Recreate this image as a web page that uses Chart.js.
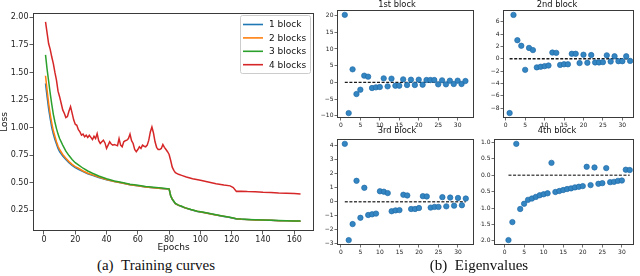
<!DOCTYPE html>
<html>
<head>
<meta charset="utf-8">
<script src="https://cdn.jsdelivr.net/npm/chart.js@4.4.0/dist/chart.umd.min.js"></script>
<style>
html, body { margin: 0; padding: 0; background: #fff; }
#fig { position: relative; width: 640px; height: 276px; overflow: hidden; }
#fig canvas { position: absolute; }
.caption {
    position: absolute; top: 257px;
    font-family: "Liberation Serif", "DejaVu Serif", serif; font-size: 15px; color: #111;
    white-space: nowrap; transform: translateX(-50%);
}
</style>
</head>
<body>
<div id="fig">
    <canvas id="curvas" style="left:0;top:0;width:320px;height:256px" width="320" height="256"></canvas>
    <canvas id="bloque1" style="left:320px;top:0;width:160px;height:128px" width="160" height="128"></canvas>
    <canvas id="bloque2" style="left:480px;top:0;width:160px;height:128px" width="160" height="128"></canvas>
    <canvas id="bloque3" style="left:320px;top:126px;width:160px;height:130px" width="160" height="130"></canvas>
    <canvas id="bloque4" style="left:480px;top:126px;width:160px;height:130px" width="160" height="130"></canvas>
    <div class="caption" style="left:156px">(a)&nbsp;&nbsp;Training curves</div>
    <div class="caption" style="left:479px">(b)&nbsp;&nbsp;Eigenvalues</div>
</div>
<script>
// ---- datos: curvas de entrenamiento ----
var epocas = [1, 2, 3, 4, 5, 6, 7, 8, 9, 10, 12, 14, 16, 18, 20, 22, 25, 28, 31, 35,
    40, 45, 50, 55, 60, 65, 70, 75, 80, 81, 82, 83, 84, 86, 88, 90,
    94, 98, 102, 106, 110, 114, 118, 121, 123, 126, 130, 135, 140, 145, 150, 155, 160, 164];
var perdida1 = [1.40, 1.28, 1.17, 1.08, 1.00, 0.94, 0.89, 0.85, 0.81, 0.78, 0.74, 0.71, 0.68, 0.655, 0.635, 0.62, 0.60, 0.58, 0.565, 0.545,
    0.525, 0.51, 0.495, 0.48, 0.47, 0.46, 0.453, 0.447, 0.44, 0.378, 0.348, 0.328, 0.308, 0.293, 0.283, 0.27,
    0.253, 0.238, 0.228, 0.216, 0.205, 0.195, 0.185, 0.176, 0.17, 0.167, 0.164, 0.161, 0.159, 0.157, 0.154, 0.152, 0.15, 0.149];
var perdida2 = [1.47, 1.34, 1.22, 1.12, 1.04, 0.97, 0.92, 0.87, 0.83, 0.80, 0.755, 0.72, 0.69, 0.665, 0.645, 0.63, 0.605, 0.585, 0.57, 0.55,
    0.528, 0.51, 0.495, 0.48, 0.47, 0.46, 0.452, 0.446, 0.441, 0.379, 0.349, 0.329, 0.309, 0.294, 0.284, 0.271,
    0.254, 0.239, 0.229, 0.217, 0.206, 0.196, 0.186, 0.177, 0.171, 0.167, 0.164, 0.161, 0.159, 0.157, 0.154, 0.152, 0.15, 0.149];
var perdida3 = [1.66, 1.53, 1.42, 1.31, 1.21, 1.12, 1.05, 0.99, 0.94, 0.90, 0.84, 0.785, 0.745, 0.71, 0.68, 0.66, 0.63, 0.605, 0.585, 0.56,
    0.535, 0.515, 0.50, 0.485, 0.475, 0.465, 0.457, 0.45, 0.443, 0.38, 0.35, 0.33, 0.31, 0.295, 0.285, 0.272,
    0.255, 0.24, 0.23, 0.218, 0.207, 0.197, 0.187, 0.178, 0.172, 0.168, 0.165, 0.162, 0.16, 0.158, 0.155, 0.153, 0.151, 0.15];
var epocasRojo = [1, 2, 3, 4, 5, 6, 7, 8, 9, 10, 11, 12, 13, 14, 15, 16, 17, 18, 19, 20,
    21, 22, 23, 24, 25, 26, 27, 28, 29, 30, 31, 32, 33, 34, 35, 36, 37, 38, 39, 40,
    41, 42, 43, 44, 45, 46, 47, 48, 49, 50, 51, 52, 53, 54, 55, 56, 57, 58, 59, 60,
    61, 62, 63, 64, 65, 66, 67, 68, 69, 70, 71, 72, 73, 74, 75, 76, 77, 78, 79, 80,
    81, 82, 83, 84, 86, 88, 91, 95, 100, 105, 110, 115, 119, 121, 123, 126, 130, 135, 140, 145, 150, 155, 160, 164];
var perdida4 = [1.96, 1.86, 1.76, 1.71, 1.64, 1.58, 1.50, 1.43, 1.33, 1.28, 1.22, 1.16, 1.13, 1.09, 1.10, 1.15, 1.19, 1.13, 1.07, 1.03,
    1.02, 0.98, 0.96, 0.93, 0.94, 0.915, 0.93, 0.91, 0.93, 0.91, 0.89, 0.92, 0.90, 0.945, 0.88, 0.855, 0.87, 0.885, 0.86, 0.81,
    0.84, 0.87, 0.85, 0.84, 0.845, 0.84, 0.835, 0.90, 0.84, 0.825, 0.87, 0.88, 0.885, 0.90, 0.94, 0.88, 0.855, 0.80, 0.78, 0.80,
    0.825, 0.81, 0.84, 0.83, 0.825, 0.84, 0.885, 0.96, 1.005, 0.95, 0.87, 0.82, 0.80, 0.80, 0.81, 0.845, 0.82, 0.80, 0.78, 0.755,
    0.70, 0.64, 0.61, 0.59, 0.575, 0.565, 0.55, 0.535, 0.52, 0.505, 0.49, 0.478, 0.47, 0.455, 0.42, 0.422, 0.418, 0.416, 0.412, 0.41,
    0.405, 0.403, 0.40, 0.396];
var ticksEpocas = [0, 20, 40, 60, 80, 100, 120, 140, 160];
var ticksPerdida = [0.25, 0.5, 0.75, 1.0, 1.25, 1.5, 1.75, 2.0];

// ---- datos: autovalores ----
var indices = [1, 2, 3, 4, 5, 6, 7, 8, 9, 10, 11, 12, 13, 14, 15, 16, 17, 18, 19, 20, 21, 22, 23, 24, 25, 26, 27, 28, 29, 30, 31, 32];
var autoval1 = [20.2, -9.2, 3.9, -3.5, -2.2, 2.0, 1.7, -1.7, -1.5, -1.4, 1.2, -1.2, 1.1, -1.0, -1.0, 0.9,
    -0.8, 0.8, -0.8, 0.8, -0.7, 0.7, 0.7, 0.7, -0.6, 0.6, -0.6, 0.5, -0.5, 0.5, -0.5, 0.4];
var autoval2 = [-8.8, 7.1, 3.0, 2.1, -1.8, 1.75, 1.4, -1.4, -1.3, -1.2, -1.1, 1.0, 0.95, -1.0, -0.9, -0.9,
    0.8, 0.8, -0.7, 0.65, -0.65, 0.6, -0.6, -0.6, -0.55, 0.55, -0.45, 0.4, -0.4, -0.4, 0.4, -0.35];
var autoval3 = [4.15, -2.75, -1.6, 1.5, -1.15, 1.0, -0.95, -0.9, -0.85, 0.75, 0.72, 0.62, -0.68, -0.62, -0.6, 0.5,
    0.45, -0.52, -0.52, -0.45, 0.4, 0.38, -0.42, -0.37, -0.37, 0.33, -0.33, 0.3, -0.28, 0.27, -0.25, 0.23];
var autoval4 = [-1.98, -1.43, 0.96, -1.03, -0.87, -0.75, -0.71, -0.66, -0.61, -0.58, -0.55, 0.38, -0.51, -0.48, -0.45, -0.42,
    -0.40, -0.37, -0.35, -0.33, 0.26, -0.30, 0.24, -0.26, -0.24, 0.22, -0.21, -0.20, -0.17, -0.16, 0.17, 0.16];
var lineaCero = [1, 32];
var ticksIndice = [0, 5, 10, 15, 20, 25, 30];
var ticksBloque1 = [-10, -5, 0, 5, 10, 15, 20];
var ticksBloque2 = [-8, -6, -4, -2, 0, 2, 4, 6];
var ticksBloque3 = [-3, -2, -1, 0, 1, 2, 3, 4];
var ticksBloque4 = [-2.0, -1.5, -1.0, -0.5, 0.0, 0.5, 1.0];

var fuente = '"DejaVu Sans", sans-serif';

function pares(xs, ys) {
    return xs.map(function (x, i) { return { x: x, y: ys[i] }; });
}

function menos(txt) {
    return String(txt).replace('-', '\u2212');
}

// marco completo (spines de matplotlib)
var marco = {
    id: 'marco',
    afterDraw: function (chart) {
        var a = chart.chartArea, ctx = chart.ctx;
        ctx.save();
        ctx.strokeStyle = '#3a3a3a';
        ctx.lineWidth = 1;
        ctx.strokeRect(Math.round(a.left) + 0.5, Math.round(a.top) + 0.5,
            Math.round(a.right - a.left) - 1, Math.round(a.bottom - a.top) - 1);
        ctx.restore();
    }
};

// leyenda dentro del area, arriba a la derecha
var leyenda = {
    id: 'leyenda',
    afterDraw: function (chart) {
        var a = chart.chartArea, ctx = chart.ctx;
        var w = 70, h = 58, x0 = Math.round(a.right) - w - 4, y0 = Math.round(a.top) + 2;
        ctx.save();
        ctx.fillStyle = 'rgba(255,255,255,0.85)';
        ctx.strokeStyle = '#cccccc';
        ctx.lineWidth = 1;
        ctx.beginPath();
        ctx.roundRect(x0 + 0.5, y0 + 0.5, w, h, 2);
        ctx.fill();
        ctx.stroke();
        ctx.font = '9px ' + fuente;
        ctx.textBaseline = 'middle';
        chart.data.datasets.forEach(function (ds, i) {
            var y = y0 + 9.5 + i * 13.4;
            ctx.strokeStyle = ds.borderColor;
            ctx.lineWidth = 1.6;
            ctx.beginPath();
            ctx.moveTo(x0 + 3, y);
            ctx.lineTo(x0 + 23, y);
            ctx.stroke();
            ctx.fillStyle = '#111';
            ctx.fillText(ds.label, x0 + 29, y + 0.5);
        });
        ctx.restore();
    }
};

// ---- grafica (a) ----
new Chart(document.getElementById('curvas').getContext('2d'), {
    type: 'line',
    data: {
        datasets: [{
            label: '1 block', data: pares(epocas, perdida1),
            borderColor: '#1f77b4', borderWidth: 1.5, pointRadius: 0, order: 4
        }, {
            label: '2 blocks', data: pares(epocas, perdida2),
            borderColor: '#ff7f0e', borderWidth: 1.5, pointRadius: 0, order: 3
        }, {
            label: '3 blocks', data: pares(epocas, perdida3),
            borderColor: '#2ca02c', borderWidth: 1.5, pointRadius: 0, order: 2
        }, {
            label: '4 blocks', data: pares(epocasRojo, perdida4),
            borderColor: '#d62728', borderWidth: 1.5, pointRadius: 0, order: 1
        }]
    },
    options: {
        responsive: false,
        animation: false,
        layout: { padding: { top: 13, right: 6, left: 0, bottom: 0 } },
        plugins: { legend: { display: false }, tooltip: { enabled: false } },
        scales: {
            x: {
                type: 'linear', min: -7.0, max: 172.6,
                afterBuildTicks: function (s) { s.ticks = ticksEpocas.map(function (v) { return { value: v }; }); },
                afterFit: function (s) { s.height = 25; },
                grid: { drawOnChartArea: false, tickLength: 3.5, tickColor: '#333', tickWidth: 0.8 },
                border: { display: false },
                ticks: { font: { family: fuente, size: 8 }, color: '#222', padding: 1, maxRotation: 0, autoSkip: false },
                title: { display: true, text: 'Epochs', font: { family: fuente, size: 9, lineHeight: 1.1 }, color: '#111', padding: { top: 0, bottom: 3 } }
            },
            y: {
                type: 'linear', min: 0.06, max: 2.04,
                afterBuildTicks: function (s) { s.ticks = ticksPerdida.map(function (v) { return { value: v }; }); },
                afterFit: function (s) { s.width = 33; },
                grid: { drawOnChartArea: false, tickLength: 3.5, tickColor: '#333', tickWidth: 0.8 },
                border: { display: false },
                ticks: {
                    font: { family: fuente, size: 8 }, color: '#222', padding: 1, autoSkip: false,
                    callback: function (v) { return v.toFixed(2); }
                },
                title: { display: true, text: 'Loss', font: { family: fuente, size: 9, lineHeight: 1.1 }, color: '#111', padding: { top: 0, bottom: 0 } }
            }
        }
    },
    plugins: [marco, leyenda]
});

// ---- graficas (b) ----
function panelAutovalores(cfg) {
    var canvas = document.getElementById(cfg.id);
    new Chart(canvas.getContext('2d'), {
        type: 'scatter',
        data: {
            datasets: [{
                data: pares(indices, cfg.valores),
                backgroundColor: '#3386c2', borderColor: '#1f6aa8', borderWidth: 0.7,
                pointRadius: 2.7, order: 1
            }, {
                data: pares(lineaCero, [0, 0]),
                showLine: true, pointRadius: 0, borderColor: cfg.colorLinea,
                borderWidth: 1.4, borderDash: [3, 1.6], order: 2
            }]
        },
        options: {
            responsive: false,
            animation: false,
            layout: { padding: { top: 0, right: cfg.derecha, left: 0, bottom: 0 } },
            plugins: {
                legend: { display: false }, tooltip: { enabled: false },
                title: {
                    display: true, text: cfg.titulo, color: '#111',
                    font: { family: fuente, size: 8.3, weight: 'normal', lineHeight: 1.2 },
                    padding: { top: 0, bottom: cfg.bajoTitulo }
                }
            },
            scales: {
                x: {
                    type: 'linear', min: cfg.xMin, max: cfg.xMax,
                    afterBuildTicks: function (s) { s.ticks = ticksIndice.map(function (v) { return { value: v }; }); },
                    afterFit: function (s) { s.height = cfg.altoX; },
                    grid: { drawOnChartArea: false, tickLength: 2.5, tickColor: '#333', tickWidth: 0.7 },
                    border: { display: false },
                    ticks: { font: { family: fuente, size: 6 }, color: '#222', padding: 1, maxRotation: 0, autoSkip: false }
                },
                y: {
                    type: 'linear', min: cfg.yMin, max: cfg.yMax,
                    afterBuildTicks: function (s) { s.ticks = cfg.ticks.map(function (v) { return { value: v }; }); },
                    afterFit: function (s) { s.width = cfg.anchoY; },
                    grid: { drawOnChartArea: false, tickLength: 2.5, tickColor: '#333', tickWidth: 0.7 },
                    border: { display: false },
                    ticks: {
                        font: { family: fuente, size: 6 }, color: '#222', padding: 1, autoSkip: false,
                        callback: function (v) { return menos(cfg.decimales ? v.toFixed(cfg.decimales) : v); }
                    }
                }
            }
        },
        plugins: [marco]
    });
}

panelAutovalores({ id: 'bloque1', titulo: '1st block', valores: autoval1, ticks: ticksBloque1,
    yMin: -10.67, yMax: 21.67, xMin: -1.0, xMax: 34.2, anchoY: 17, derecha: 6, altoX: 10, bajoTitulo: 0,
    colorLinea: '#1a1a1a', decimales: 0 });
panelAutovalores({ id: 'bloque2', titulo: '2nd block', valores: autoval2, ticks: ticksBloque2,
    yMin: -9.6, yMax: 7.9, xMin: -0.7, xMax: 33.0, anchoY: 23, derecha: 6, altoX: 10, bajoTitulo: 0,
    colorLinea: '#1a1a1a', decimales: 0 });
panelAutovalores({ id: 'bloque3', titulo: '3rd block', valores: autoval3, ticks: ticksBloque3,
    yMin: -3.1, yMax: 4.5, xMin: -1.0, xMax: 34.1, anchoY: 17, derecha: 6, altoX: 11, bajoTitulo: 3,
    colorLinea: '#444444', decimales: 0 });
panelAutovalores({ id: 'bloque4', titulo: '4th block', valores: autoval4, ticks: ticksBloque4,
    yMin: -2.13, yMax: 1.11, xMin: -2.7, xMax: 33.1, anchoY: 14, derecha: 6, altoX: 11, bajoTitulo: 3,
    colorLinea: '#555555', decimales: 1 });
</script>
</body>
</html>
